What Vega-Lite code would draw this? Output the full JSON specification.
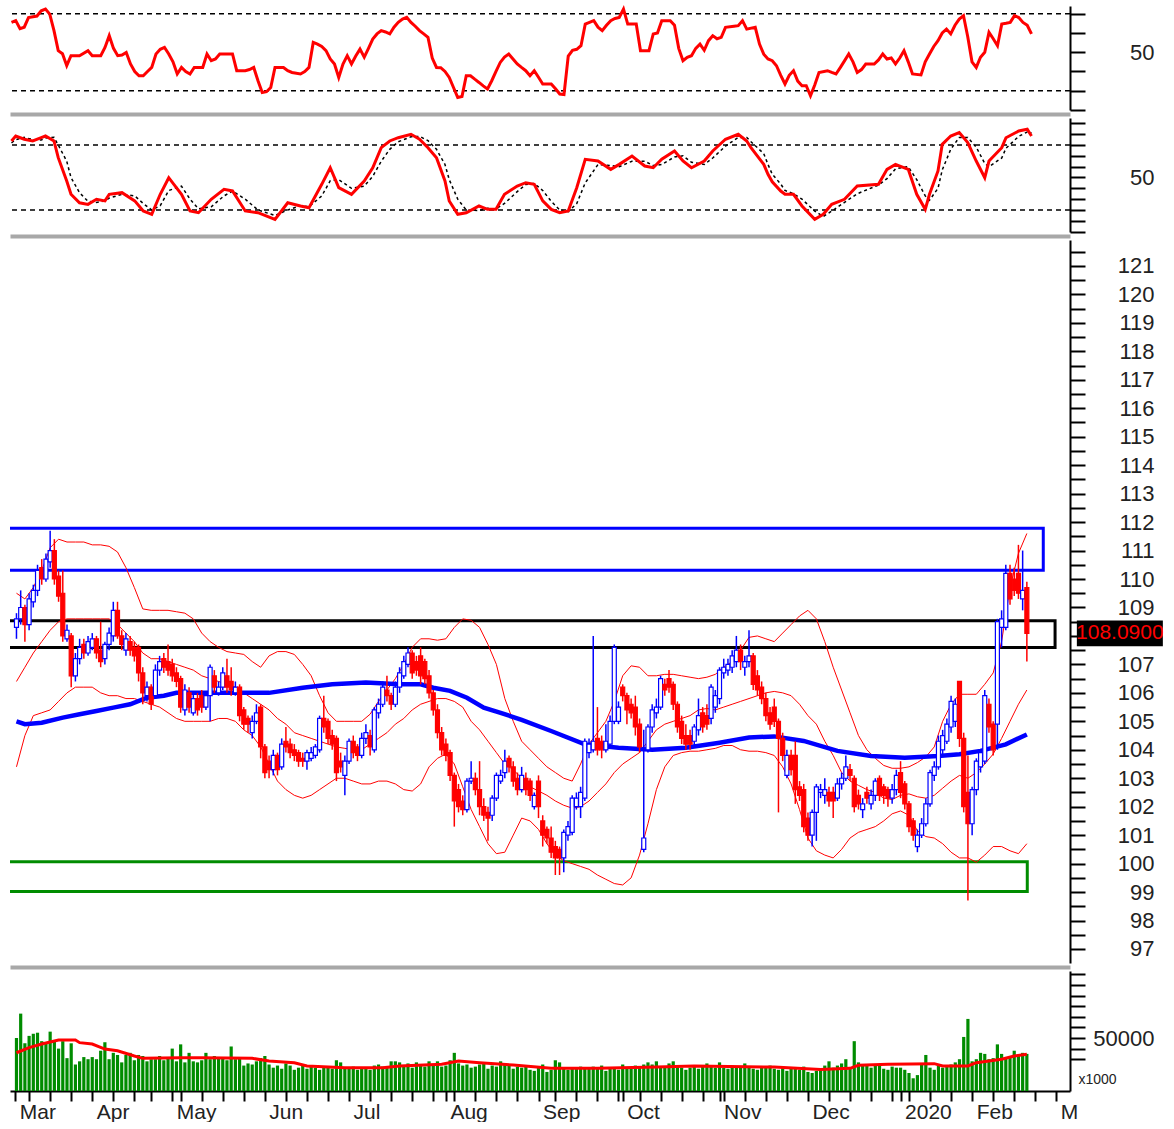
{
"$schema": "https://vega.github.io/schema/vega-lite/v6.json",
"background": "white",
"padding": {"left": 5, "top": 2, "right": 0, "bottom": 0},
"spacing": 8,
"bounds": "flush",
"config": {"view": {"stroke": null}, "axis": {"grid": false, "labelFont": "Liberation Sans", "titleFont": "Liberation Sans", "labelColor": "#222222", "domainColor": "black", "tickColor": "black", "domainWidth": 2, "tickWidth": 2, "labelOverlap": false, "labelSeparation": -5000, "labelFlush": false}},
"datasets": {
"px": [
{"t":-18,"o":108.3,"h":108.8,"l":107.9,"c":108.6,"v":50000},
{"t":-17,"o":108.6,"h":109.6,"l":108.4,"c":109.0,"v":73000},
{"t":-16,"o":109.0,"h":109.1,"l":107.8,"c":108.4,"v":45000},
{"t":-15,"o":108.4,"h":109.5,"l":108.2,"c":109.3,"v":52000},
{"t":-14,"o":109.2,"h":109.8,"l":109.0,"c":109.6,"v":54000},
{"t":-13,"o":109.6,"h":110.5,"l":109.4,"c":110.3,"v":55000},
{"t":-12,"o":110.4,"h":110.7,"l":109.8,"c":110.0,"v":47000},
{"t":-11,"o":110.0,"h":110.9,"l":109.9,"c":110.7,"v":46000},
{"t":-10,"o":110.6,"h":111.7,"l":110.4,"c":111.0,"v":56000},
{"t":-9,"o":111.0,"h":111.4,"l":109.8,"c":110.0,"v":48000},
{"t":-8,"o":110.1,"h":110.3,"l":109.2,"c":109.4,"v":40000},
{"t":-7,"o":109.5,"h":110.3,"l":107.8,"c":108.0,"v":47000},
{"t":-6,"o":107.9,"h":108.4,"l":107.8,"c":108.2,"v":31000},
{"t":-5,"o":108.0,"h":108.1,"l":106.2,"c":106.6,"v":45000},
{"t":-4,"o":106.6,"h":107.4,"l":106.4,"c":107.2,"v":25000},
{"t":-3,"o":107.2,"h":107.9,"l":107.0,"c":107.6,"v":28000},
{"t":-2,"o":107.7,"h":107.9,"l":107.2,"c":107.4,"v":32000},
{"t":-1,"o":107.4,"h":108.0,"l":107.3,"c":107.8,"v":30000},
{"t":0,"o":107.6,"h":108.1,"l":107.5,"c":107.9,"v":32000},
{"t":1,"o":107.9,"h":108.0,"l":107.2,"c":107.4,"v":30000},
{"t":2,"o":107.5,"h":108.5,"l":106.9,"c":107.1,"v":38000},
{"t":3,"o":107.2,"h":107.8,"l":107.0,"c":107.7,"v":46000},
{"t":4,"o":107.7,"h":108.3,"l":107.5,"c":108.1,"v":30000},
{"t":5,"o":108.0,"h":109.2,"l":107.8,"c":108.9,"v":36000},
{"t":6,"o":108.9,"h":109.2,"l":107.9,"c":108.0,"v":34000},
{"t":7,"o":108.0,"h":108.2,"l":107.5,"c":107.7,"v":27000},
{"t":8,"o":107.5,"h":108.1,"l":107.3,"c":107.9,"v":34000},
{"t":9,"o":107.8,"h":108.0,"l":107.3,"c":107.5,"v":36000},
{"t":10,"o":107.6,"h":107.8,"l":107.1,"c":107.3,"v":29000},
{"t":11,"o":107.6,"h":107.7,"l":106.4,"c":106.7,"v":34000},
{"t":12,"o":106.7,"h":106.9,"l":105.6,"c":106.0,"v":33000},
{"t":13,"o":105.9,"h":106.4,"l":105.7,"c":106.2,"v":28000},
{"t":14,"o":106.2,"h":106.3,"l":105.4,"c":105.6,"v":30000},
{"t":15,"o":105.9,"h":107.0,"l":105.8,"c":106.8,"v":30000},
{"t":16,"o":106.8,"h":107.3,"l":106.6,"c":107.1,"v":33000},
{"t":17,"o":107.2,"h":107.4,"l":106.7,"c":106.9,"v":29000},
{"t":18,"o":107.1,"h":107.7,"l":106.6,"c":106.8,"v":32000},
{"t":19,"o":107.0,"h":107.2,"l":106.4,"c":106.6,"v":40000},
{"t":20,"o":106.7,"h":106.9,"l":106.2,"c":106.4,"v":28000},
{"t":21,"o":106.5,"h":106.6,"l":105.3,"c":105.5,"v":44000},
{"t":22,"o":105.4,"h":106.3,"l":105.2,"c":106.1,"v":27000},
{"t":23,"o":106.0,"h":106.2,"l":105.3,"c":105.5,"v":36000},
{"t":24,"o":105.3,"h":106.0,"l":105.2,"c":105.8,"v":28000},
{"t":25,"o":105.8,"h":106.0,"l":105.2,"c":105.4,"v":27000},
{"t":26,"o":105.9,"h":106.1,"l":105.3,"c":105.5,"v":29000},
{"t":27,"o":105.5,"h":106.0,"l":105.4,"c":105.9,"v":36000},
{"t":28,"o":105.9,"h":107.0,"l":105.0,"c":106.9,"v":30000},
{"t":29,"o":106.6,"h":106.8,"l":106.0,"c":106.2,"v":33000},
{"t":30,"o":106.0,"h":106.4,"l":105.9,"c":106.2,"v":31000},
{"t":31,"o":106.2,"h":106.9,"l":106.1,"c":106.7,"v":32000},
{"t":32,"o":106.6,"h":107.2,"l":106.0,"c":106.2,"v":29000},
{"t":33,"o":106.4,"h":106.9,"l":105.9,"c":106.1,"v":42000},
{"t":34,"o":106.0,"h":106.4,"l":105.9,"c":106.2,"v":30000},
{"t":35,"o":106.2,"h":106.3,"l":105.0,"c":105.2,"v":31000},
{"t":36,"o":105.4,"h":105.5,"l":104.7,"c":104.9,"v":24000},
{"t":37,"o":105.1,"h":105.2,"l":104.6,"c":104.9,"v":26000},
{"t":38,"o":104.6,"h":105.2,"l":104.4,"c":105.0,"v":25000},
{"t":39,"o":105.0,"h":105.6,"l":104.9,"c":105.3,"v":28000},
{"t":40,"o":105.5,"h":105.6,"l":103.7,"c":104.1,"v":31000},
{"t":41,"o":104.1,"h":104.2,"l":103.0,"c":103.2,"v":33000},
{"t":42,"o":103.6,"h":103.8,"l":103.0,"c":103.3,"v":25000},
{"t":43,"o":103.3,"h":104.0,"l":103.1,"c":103.8,"v":22000},
{"t":44,"o":103.8,"h":103.9,"l":103.1,"c":103.3,"v":24000},
{"t":45,"o":103.4,"h":104.4,"l":103.3,"c":104.2,"v":21000},
{"t":46,"o":104.3,"h":104.8,"l":103.9,"c":104.1,"v":26000},
{"t":47,"o":104.2,"h":104.4,"l":103.7,"c":103.9,"v":24000},
{"t":48,"o":104.0,"h":104.2,"l":103.6,"c":103.8,"v":20000},
{"t":49,"o":103.9,"h":104.0,"l":103.4,"c":103.6,"v":22000},
{"t":50,"o":103.7,"h":103.9,"l":103.4,"c":103.6,"v":24000},
{"t":51,"o":103.6,"h":104.0,"l":103.3,"c":103.9,"v":21000},
{"t":52,"o":103.7,"h":104.1,"l":103.6,"c":103.9,"v":23000},
{"t":53,"o":103.8,"h":104.2,"l":103.7,"c":104.1,"v":22000},
{"t":54,"o":104.0,"h":105.2,"l":103.9,"c":105.1,"v":20000},
{"t":55,"o":105.1,"h":105.9,"l":104.6,"c":104.8,"v":23000},
{"t":56,"o":105.0,"h":105.1,"l":104.2,"c":104.4,"v":22000},
{"t":57,"o":104.5,"h":104.7,"l":104.0,"c":104.2,"v":21000},
{"t":58,"o":104.4,"h":104.5,"l":102.9,"c":103.2,"v":29000},
{"t":59,"o":103.6,"h":103.9,"l":103.2,"c":103.4,"v":27000},
{"t":60,"o":103.1,"h":103.8,"l":102.4,"c":103.6,"v":22000},
{"t":61,"o":103.6,"h":104.4,"l":103.5,"c":104.3,"v":21000},
{"t":62,"o":104.3,"h":104.5,"l":103.7,"c":103.9,"v":23000},
{"t":63,"o":104.1,"h":104.2,"l":103.6,"c":103.8,"v":20000},
{"t":64,"o":103.8,"h":104.6,"l":103.7,"c":104.4,"v":22000},
{"t":65,"o":104.4,"h":104.9,"l":104.2,"c":104.6,"v":21000},
{"t":66,"o":104.5,"h":104.7,"l":103.8,"c":104.1,"v":20000},
{"t":67,"o":104.0,"h":105.5,"l":103.9,"c":105.4,"v":24000},
{"t":68,"o":105.3,"h":105.8,"l":105.1,"c":105.6,"v":25000},
{"t":69,"o":105.6,"h":106.4,"l":105.5,"c":106.2,"v":23000},
{"t":70,"o":106.1,"h":106.6,"l":105.7,"c":105.9,"v":22000},
{"t":71,"o":105.9,"h":106.0,"l":105.4,"c":105.6,"v":28000},
{"t":72,"o":105.6,"h":106.4,"l":105.5,"c":106.2,"v":28000},
{"t":73,"o":106.2,"h":106.9,"l":106.0,"c":106.7,"v":27000},
{"t":74,"o":106.6,"h":107.3,"l":106.5,"c":107.1,"v":24000},
{"t":75,"o":107.0,"h":107.6,"l":106.9,"c":107.4,"v":26000},
{"t":76,"o":107.4,"h":107.5,"l":106.5,"c":106.7,"v":22000},
{"t":77,"o":107.1,"h":107.3,"l":106.6,"c":106.8,"v":27000},
{"t":78,"o":107.3,"h":107.6,"l":106.3,"c":106.6,"v":25000},
{"t":79,"o":107.1,"h":107.2,"l":106.3,"c":106.5,"v":23000},
{"t":80,"o":106.6,"h":106.8,"l":105.8,"c":106.0,"v":28000},
{"t":81,"o":106.0,"h":106.1,"l":105.2,"c":105.4,"v":24000},
{"t":82,"o":105.4,"h":105.6,"l":104.4,"c":104.6,"v":28000},
{"t":83,"o":104.6,"h":104.8,"l":103.8,"c":104.0,"v":23000},
{"t":84,"o":104.2,"h":104.4,"l":103.6,"c":103.8,"v":24000},
{"t":85,"o":103.9,"h":104.0,"l":102.9,"c":103.1,"v":29000},
{"t":86,"o":103.1,"h":103.2,"l":101.3,"c":102.2,"v":36000},
{"t":87,"o":102.6,"h":102.8,"l":101.8,"c":102.0,"v":26000},
{"t":88,"o":102.2,"h":102.4,"l":101.7,"c":101.9,"v":24000},
{"t":89,"o":101.9,"h":103.0,"l":101.8,"c":102.9,"v":25000},
{"t":90,"o":102.9,"h":103.6,"l":102.8,"c":103.0,"v":22000},
{"t":91,"o":103.0,"h":103.2,"l":102.4,"c":102.6,"v":23000},
{"t":92,"o":102.6,"h":103.6,"l":101.7,"c":102.0,"v":25000},
{"t":93,"o":102.0,"h":102.3,"l":101.5,"c":101.7,"v":27000},
{"t":94,"o":101.8,"h":102.0,"l":100.8,"c":101.6,"v":21000},
{"t":95,"o":101.7,"h":102.4,"l":101.5,"c":102.3,"v":24000},
{"t":96,"o":102.3,"h":103.2,"l":102.2,"c":103.1,"v":23000},
{"t":97,"o":102.9,"h":103.3,"l":102.8,"c":103.1,"v":28000},
{"t":98,"o":103.2,"h":104.0,"l":103.0,"c":103.6,"v":25000},
{"t":99,"o":103.7,"h":103.8,"l":103.2,"c":103.4,"v":24000},
{"t":100,"o":103.4,"h":103.6,"l":102.7,"c":102.9,"v":21000},
{"t":101,"o":103.0,"h":103.2,"l":102.4,"c":102.6,"v":23000},
{"t":102,"o":102.6,"h":103.4,"l":102.5,"c":103.1,"v":22000},
{"t":103,"o":103.0,"h":103.2,"l":102.4,"c":102.6,"v":24000},
{"t":104,"o":102.9,"h":103.0,"l":102.2,"c":102.4,"v":20000},
{"t":105,"o":102.0,"h":102.5,"l":101.9,"c":102.4,"v":19000},
{"t":106,"o":102.9,"h":103.1,"l":101.6,"c":102.0,"v":22000},
{"t":107,"o":101.5,"h":101.7,"l":100.6,"c":101.0,"v":25000},
{"t":108,"o":101.2,"h":101.3,"l":100.7,"c":100.9,"v":18000},
{"t":109,"o":100.9,"h":101.3,"l":100.2,"c":100.4,"v":20000},
{"t":110,"o":100.6,"h":100.8,"l":99.6,"c":100.2,"v":29000},
{"t":111,"o":100.5,"h":100.6,"l":99.6,"c":100.2,"v":27000},
{"t":112,"o":100.2,"h":101.2,"l":99.7,"c":101.1,"v":21000},
{"t":113,"o":101.0,"h":101.5,"l":100.8,"c":101.3,"v":20000},
{"t":114,"o":101.1,"h":102.4,"l":101.0,"c":102.3,"v":22000},
{"t":115,"o":102.0,"h":102.5,"l":101.9,"c":102.3,"v":21000},
{"t":116,"o":102.0,"h":102.7,"l":101.6,"c":102.5,"v":23000},
{"t":117,"o":102.3,"h":104.4,"l":102.2,"c":104.3,"v":22000},
{"t":118,"o":103.9,"h":104.4,"l":103.7,"c":104.2,"v":21000},
{"t":119,"o":104.0,"h":108.0,"l":103.9,"c":104.3,"v":23000},
{"t":120,"o":104.4,"h":105.5,"l":103.8,"c":104.0,"v":22000},
{"t":121,"o":104.3,"h":104.5,"l":103.7,"c":104.0,"v":24000},
{"t":122,"o":104.0,"h":104.9,"l":103.9,"c":104.3,"v":19000},
{"t":123,"o":104.2,"h":105.2,"l":104.1,"c":105.0,"v":21000},
{"t":124,"o":105.0,"h":107.7,"l":104.9,"c":107.6,"v":22000},
{"t":125,"o":105.0,"h":105.7,"l":104.9,"c":105.5,"v":20000},
{"t":126,"o":106.2,"h":106.3,"l":105.7,"c":105.9,"v":25000},
{"t":127,"o":105.9,"h":106.0,"l":104.9,"c":105.4,"v":22000},
{"t":128,"o":105.6,"h":105.8,"l":105.1,"c":105.3,"v":21000},
{"t":129,"o":105.5,"h":105.9,"l":104.5,"c":104.8,"v":24000},
{"t":130,"o":104.9,"h":105.1,"l":103.9,"c":104.1,"v":23000},
{"t":131,"o":100.5,"h":104.7,"l":100.4,"c":100.9,"v":25000},
{"t":132,"o":104.0,"h":104.9,"l":103.9,"c":104.8,"v":27000},
{"t":133,"o":104.8,"h":105.6,"l":104.6,"c":105.4,"v":25000},
{"t":134,"o":105.3,"h":105.8,"l":105.1,"c":105.5,"v":28000},
{"t":135,"o":105.5,"h":106.6,"l":105.4,"c":106.5,"v":22000},
{"t":136,"o":106.3,"h":106.5,"l":105.9,"c":106.1,"v":23000},
{"t":137,"o":106.5,"h":106.8,"l":106.0,"c":106.2,"v":26000},
{"t":138,"o":106.3,"h":106.4,"l":105.4,"c":105.6,"v":28000},
{"t":139,"o":105.6,"h":105.7,"l":104.6,"c":104.8,"v":24000},
{"t":140,"o":105.0,"h":105.2,"l":104.2,"c":104.4,"v":22000},
{"t":141,"o":104.5,"h":104.9,"l":104.0,"c":104.2,"v":20000},
{"t":142,"o":104.5,"h":104.7,"l":104.0,"c":104.2,"v":22000},
{"t":143,"o":104.3,"h":104.9,"l":104.1,"c":104.8,"v":23000},
{"t":144,"o":104.7,"h":105.8,"l":104.5,"c":105.2,"v":21000},
{"t":145,"o":105.3,"h":105.5,"l":104.6,"c":104.8,"v":24000},
{"t":146,"o":105.2,"h":105.6,"l":104.7,"c":104.9,"v":26000},
{"t":147,"o":105.1,"h":106.3,"l":104.9,"c":106.2,"v":23000},
{"t":148,"o":105.5,"h":106.1,"l":105.3,"c":105.9,"v":22000},
{"t":149,"o":105.8,"h":106.9,"l":105.6,"c":106.8,"v":27000},
{"t":150,"o":106.7,"h":107.2,"l":106.5,"c":106.9,"v":22000},
{"t":151,"o":106.8,"h":107.2,"l":106.6,"c":107.0,"v":21000},
{"t":152,"o":106.9,"h":107.5,"l":106.7,"c":107.3,"v":24000},
{"t":153,"o":107.1,"h":108.0,"l":106.9,"c":107.5,"v":22000},
{"t":154,"o":107.5,"h":107.7,"l":106.8,"c":107.1,"v":23000},
{"t":155,"o":106.9,"h":107.3,"l":106.6,"c":107.1,"v":26000},
{"t":156,"o":107.1,"h":108.2,"l":106.9,"c":107.3,"v":22000},
{"t":157,"o":107.3,"h":107.4,"l":106.1,"c":106.3,"v":21000},
{"t":158,"o":106.6,"h":106.8,"l":105.9,"c":106.1,"v":20000},
{"t":159,"o":106.2,"h":106.4,"l":105.6,"c":105.8,"v":22000},
{"t":160,"o":105.8,"h":106.0,"l":105.0,"c":105.2,"v":23000},
{"t":161,"o":105.3,"h":105.5,"l":104.7,"c":104.9,"v":24000},
{"t":162,"o":105.5,"h":105.8,"l":104.8,"c":105.0,"v":21000},
{"t":163,"o":105.0,"h":105.1,"l":101.8,"c":104.4,"v":20000},
{"t":164,"o":104.4,"h":104.6,"l":103.6,"c":103.8,"v":22000},
{"t":165,"o":103.1,"h":104.0,"l":103.0,"c":103.8,"v":19000},
{"t":166,"o":103.8,"h":104.0,"l":103.1,"c":103.3,"v":21000},
{"t":167,"o":103.8,"h":104.3,"l":102.1,"c":102.6,"v":22000},
{"t":168,"o":102.7,"h":102.9,"l":102.2,"c":102.4,"v":20000},
{"t":169,"o":102.6,"h":102.8,"l":101.1,"c":101.3,"v":23000},
{"t":170,"o":101.6,"h":101.8,"l":100.8,"c":101.0,"v":18000},
{"t":171,"o":101.0,"h":101.9,"l":100.6,"c":101.8,"v":17000},
{"t":172,"o":101.8,"h":102.8,"l":100.8,"c":102.7,"v":19000},
{"t":173,"o":102.5,"h":102.8,"l":102.3,"c":102.6,"v":20000},
{"t":174,"o":102.4,"h":103.0,"l":102.1,"c":102.6,"v":24000},
{"t":175,"o":102.5,"h":102.7,"l":102.0,"c":102.2,"v":28000},
{"t":176,"o":102.5,"h":102.7,"l":101.6,"c":102.2,"v":22000},
{"t":177,"o":102.3,"h":103.0,"l":102.2,"c":102.8,"v":24000},
{"t":178,"o":102.8,"h":103.2,"l":102.6,"c":103.0,"v":26000},
{"t":179,"o":103.0,"h":103.8,"l":102.9,"c":103.4,"v":30000},
{"t":180,"o":103.3,"h":103.5,"l":102.9,"c":103.1,"v":22000},
{"t":181,"o":103.0,"h":103.1,"l":101.8,"c":102.0,"v":47000},
{"t":182,"o":102.4,"h":102.6,"l":101.9,"c":102.1,"v":27000},
{"t":183,"o":101.9,"h":102.3,"l":101.6,"c":102.1,"v":24000},
{"t":184,"o":102.5,"h":102.7,"l":102.1,"c":102.3,"v":25000},
{"t":185,"o":102.1,"h":102.6,"l":101.9,"c":102.4,"v":22000},
{"t":186,"o":102.4,"h":103.0,"l":102.2,"c":102.9,"v":24000},
{"t":187,"o":103.0,"h":103.1,"l":102.2,"c":102.4,"v":25000},
{"t":188,"o":102.7,"h":102.8,"l":102.1,"c":102.4,"v":21000},
{"t":189,"o":102.6,"h":102.7,"l":102.0,"c":102.3,"v":20000},
{"t":190,"o":102.3,"h":102.8,"l":102.1,"c":102.6,"v":23000},
{"t":191,"o":102.6,"h":103.3,"l":102.4,"c":103.1,"v":22000},
{"t":192,"o":103.2,"h":103.6,"l":102.3,"c":102.5,"v":22000},
{"t":193,"o":102.8,"h":102.9,"l":101.9,"c":102.1,"v":20000},
{"t":194,"o":102.1,"h":102.2,"l":101.1,"c":101.3,"v":17000},
{"t":195,"o":101.5,"h":101.6,"l":100.8,"c":101.0,"v":12000},
{"t":196,"o":100.6,"h":101.2,"l":100.4,"c":101.0,"v":15000},
{"t":197,"o":101.0,"h":101.6,"l":100.9,"c":101.4,"v":25000},
{"t":198,"o":101.4,"h":102.3,"l":101.3,"c":102.1,"v":34000},
{"t":199,"o":102.1,"h":103.3,"l":102.0,"c":103.2,"v":22000},
{"t":200,"o":103.1,"h":103.6,"l":102.9,"c":103.4,"v":20000},
{"t":201,"o":103.4,"h":104.5,"l":103.3,"c":104.3,"v":24000},
{"t":202,"o":104.0,"h":104.7,"l":103.8,"c":104.5,"v":22000},
{"t":203,"o":104.3,"h":105.1,"l":104.2,"c":104.9,"v":23000},
{"t":204,"o":104.8,"h":105.9,"l":104.6,"c":105.7,"v":25000},
{"t":205,"o":105.0,"h":105.8,"l":104.8,"c":105.6,"v":27000},
{"t":206,"o":106.4,"h":106.4,"l":104.1,"c":104.4,"v":30000},
{"t":207,"o":104.4,"h":104.6,"l":101.8,"c":102.0,"v":51000},
{"t":208,"o":102.5,"h":103.8,"l":98.7,"c":101.4,"v":68000},
{"t":209,"o":101.4,"h":102.7,"l":101.0,"c":102.6,"v":28000},
{"t":210,"o":102.6,"h":103.7,"l":102.4,"c":103.6,"v":30000},
{"t":211,"o":103.4,"h":104.0,"l":103.2,"c":103.9,"v":36000},
{"t":212,"o":103.6,"h":106.1,"l":103.5,"c":105.9,"v":35000},
{"t":213,"o":105.6,"h":105.8,"l":104.6,"c":104.8,"v":30000},
{"t":214,"o":104.9,"h":105.0,"l":103.8,"c":104.0,"v":31000},
{"t":215,"o":104.9,"h":108.6,"l":104.0,"c":108.5,"v":44000},
{"t":216,"o":108.3,"h":108.9,"l":107.6,"c":108.6,"v":35000},
{"t":217,"o":108.3,"h":110.5,"l":108.2,"c":110.2,"v":32000},
{"t":218,"o":110.2,"h":110.5,"l":109.1,"c":109.3,"v":33000},
{"t":219,"o":110.0,"h":110.4,"l":109.4,"c":109.6,"v":38000},
{"t":220,"o":110.2,"h":111.2,"l":109.3,"c":109.5,"v":34000},
{"t":221,"o":109.3,"h":111.0,"l":108.9,"c":109.6,"v":36000},
{"t":222,"o":109.7,"h":109.9,"l":107.1,"c":108.09,"v":35000}
],
"bb": [
{"t":-18,"up":109.5,"mid":106.4,"lo":103.4},{"t":-16,"up":109.3,"mid":106.9,"lo":104.5},{"t":-14,"up":109.7,"mid":107.4,"lo":105.2},{"t":-12,"up":110.3,"mid":107.8,"lo":105.3},{"t":-10,"up":111.1,"mid":108.2,"lo":105.4},{"t":-8,"up":111.4,"mid":108.5,"lo":105.7},{"t":-6,"up":111.3,"mid":108.6,"lo":106.0},{"t":-4,"up":111.3,"mid":108.6,"lo":106.2},{"t":-2,"up":111.3,"mid":108.6,"lo":106.2},{"t":0,"up":111.2,"mid":108.6,"lo":106.2},{"t":2,"up":111.2,"mid":108.6,"lo":106.0},{"t":4,"up":111.15,"mid":108.6,"lo":105.9},{"t":6,"up":110.95,"mid":108.4,"lo":105.9},{"t":8,"up":110.4,"mid":108.1,"lo":105.8},{"t":10,"up":109.7,"mid":107.8,"lo":105.8},{"t":12,"up":108.95,"mid":107.4,"lo":105.7},{"t":14,"up":108.9,"mid":107.2,"lo":105.6},{"t":16,"up":108.9,"mid":107.2,"lo":105.5},{"t":18,"up":108.9,"mid":107.1,"lo":105.3},{"t":20,"up":108.85,"mid":107.0,"lo":105.1},{"t":22,"up":108.8,"mid":106.9,"lo":105.0},{"t":24,"up":108.6,"mid":106.8,"lo":105.0},{"t":26,"up":108.1,"mid":106.6,"lo":105.0},{"t":28,"up":107.8,"mid":106.5,"lo":105.0},{"t":30,"up":107.6,"mid":106.4,"lo":105.1},{"t":32,"up":107.45,"mid":106.3,"lo":105.1},{"t":34,"up":107.4,"mid":106.2,"lo":105.0},{"t":36,"up":107.35,"mid":106.0,"lo":104.7},{"t":38,"up":107.1,"mid":105.8,"lo":104.5},{"t":40,"up":106.9,"mid":105.6,"lo":104.1},{"t":42,"up":107.3,"mid":105.4,"lo":103.5},{"t":44,"up":107.45,"mid":105.1,"lo":102.9},{"t":46,"up":107.45,"mid":104.9,"lo":102.6},{"t":48,"up":107.35,"mid":104.6,"lo":102.4},{"t":50,"up":107.0,"mid":104.5,"lo":102.3},{"t":52,"up":106.6,"mid":104.4,"lo":102.4},{"t":54,"up":105.9,"mid":104.3,"lo":102.6},{"t":56,"up":105.3,"mid":104.2,"lo":102.8},{"t":58,"up":105.0,"mid":104.1,"lo":103.0},{"t":60,"up":105.0,"mid":104.05,"lo":103.0},{"t":62,"up":105.0,"mid":104.0,"lo":102.9},{"t":64,"up":105.0,"mid":104.0,"lo":102.8},{"t":66,"up":105.25,"mid":104.2,"lo":102.8},{"t":68,"up":105.7,"mid":104.4,"lo":102.9},{"t":70,"up":106.1,"mid":104.6,"lo":102.9},{"t":72,"up":106.5,"mid":104.9,"lo":102.8},{"t":74,"up":107.0,"mid":105.1,"lo":102.6},{"t":76,"up":107.6,"mid":105.4,"lo":102.55},{"t":78,"up":107.9,"mid":105.6,"lo":102.8},{"t":80,"up":107.9,"mid":105.7,"lo":103.4},{"t":82,"up":107.85,"mid":105.8,"lo":103.7},{"t":84,"up":107.9,"mid":105.8,"lo":103.85},{"t":86,"up":108.3,"mid":105.7,"lo":103.5},{"t":88,"up":108.6,"mid":105.5,"lo":102.7},{"t":90,"up":108.55,"mid":105.0,"lo":101.9},{"t":92,"up":108.3,"mid":104.7,"lo":101.3},{"t":94,"up":107.7,"mid":104.3,"lo":100.7},{"t":96,"up":107.0,"mid":103.9,"lo":100.35},{"t":98,"up":105.8,"mid":103.5,"lo":100.4},{"t":100,"up":105.0,"mid":103.3,"lo":101.0},{"t":102,"up":104.3,"mid":103.0,"lo":101.6},{"t":104,"up":104.0,"mid":102.7,"lo":101.5},{"t":106,"up":103.7,"mid":102.55,"lo":101.2},{"t":108,"up":103.4,"mid":102.4,"lo":100.7},{"t":110,"up":103.2,"mid":102.2,"lo":100.3},{"t":112,"up":103.0,"mid":102.05,"lo":100.1},{"t":114,"up":102.9,"mid":101.95,"lo":100.0},{"t":116,"up":103.5,"mid":102.0,"lo":99.9},{"t":118,"up":104.2,"mid":102.2,"lo":99.8},{"t":120,"up":104.6,"mid":102.5,"lo":99.6},{"t":122,"up":105.0,"mid":102.8,"lo":99.45},{"t":124,"up":105.7,"mid":103.2,"lo":99.3},{"t":126,"up":106.6,"mid":103.5,"lo":99.25},{"t":128,"up":106.95,"mid":103.7,"lo":99.5},{"t":130,"up":106.9,"mid":103.9,"lo":100.3},{"t":132,"up":106.6,"mid":104.3,"lo":101.4},{"t":134,"up":106.6,"mid":104.7,"lo":102.6},{"t":136,"up":106.65,"mid":104.9,"lo":103.4},{"t":138,"up":106.65,"mid":105.0,"lo":103.8},{"t":140,"up":106.6,"mid":105.1,"lo":103.9},{"t":142,"up":106.55,"mid":105.2,"lo":103.95},{"t":144,"up":106.5,"mid":105.4,"lo":103.95},{"t":146,"up":106.55,"mid":105.45,"lo":104.0},{"t":148,"up":106.65,"mid":105.4,"lo":104.05},{"t":150,"up":106.9,"mid":105.5,"lo":104.15},{"t":152,"up":107.1,"mid":105.6,"lo":104.15},{"t":154,"up":107.5,"mid":105.7,"lo":104.0},{"t":156,"up":107.95,"mid":105.8,"lo":103.95},{"t":158,"up":108.0,"mid":105.9,"lo":103.95},{"t":160,"up":107.9,"mid":106.0,"lo":103.9},{"t":162,"up":107.8,"mid":106.05,"lo":103.8},{"t":164,"up":108.1,"mid":106.0,"lo":103.4},{"t":166,"up":108.4,"mid":105.9,"lo":102.8},{"t":168,"up":108.7,"mid":105.6,"lo":101.9},{"t":170,"up":108.9,"mid":105.2,"lo":100.9},{"t":172,"up":108.6,"mid":104.9,"lo":100.45},{"t":174,"up":107.8,"mid":104.3,"lo":100.3},{"t":176,"up":106.9,"mid":103.8,"lo":100.2},{"t":178,"up":106.1,"mid":103.2,"lo":100.5},{"t":180,"up":105.3,"mid":102.9,"lo":100.9},{"t":182,"up":104.5,"mid":102.75,"lo":101.1},{"t":184,"up":104.0,"mid":102.6,"lo":101.2},{"t":186,"up":103.7,"mid":102.5,"lo":101.3},{"t":188,"up":103.45,"mid":102.3,"lo":101.5},{"t":190,"up":103.35,"mid":102.25,"lo":101.75},{"t":192,"up":103.35,"mid":102.4,"lo":101.85},{"t":194,"up":103.4,"mid":102.45,"lo":101.7},{"t":196,"up":103.55,"mid":102.35,"lo":101.15},{"t":198,"up":103.75,"mid":102.3,"lo":100.95},{"t":200,"up":104.1,"mid":102.4,"lo":100.9},{"t":202,"up":105.0,"mid":102.65,"lo":100.7},{"t":204,"up":105.6,"mid":102.9,"lo":100.4},{"t":206,"up":105.95,"mid":103.1,"lo":100.2},{"t":208,"up":105.95,"mid":103.0,"lo":100.2},{"t":210,"up":105.95,"mid":103.2,"lo":100.05},{"t":212,"up":106.3,"mid":103.5,"lo":100.3},{"t":214,"up":106.7,"mid":103.85,"lo":100.6},{"t":216,"up":107.8,"mid":104.4,"lo":100.6},{"t":218,"up":109.7,"mid":105.0,"lo":100.45},{"t":220,"up":110.9,"mid":105.6,"lo":100.35},{"t":222,"up":111.6,"mid":106.1,"lo":100.7}
],
"ma": [
{"t":-18,"m":105.0},{"t":-16,"m":104.9},{"t":-12,"m":104.95},{"t":-7,"m":105.13},{"t":-3,"m":105.25},{"t":1,"m":105.36},{"t":5,"m":105.48},{"t":9,"m":105.6},{"t":13,"m":105.83},{"t":17,"m":105.9},{"t":20,"m":106.0},{"t":30,"m":106.0},{"t":42,"m":106.0},{"t":50,"m":106.18},{"t":57,"m":106.3},{"t":65,"m":106.36},{"t":73,"m":106.3},{"t":78,"m":106.3},{"t":81,"m":106.18},{"t":85,"m":106.07},{"t":89,"m":105.83},{"t":93,"m":105.48},{"t":97,"m":105.3},{"t":102,"m":105.05},{"t":109,"m":104.66},{"t":117,"m":104.19},{"t":125,"m":104.07},{"t":133,"m":104.0},{"t":141,"m":104.07},{"t":149,"m":104.25},{"t":156,"m":104.43},{"t":162,"m":104.47},{"t":169,"m":104.31},{"t":177,"m":103.96},{"t":185,"m":103.78},{"t":193,"m":103.72},{"t":201,"m":103.78},{"t":206,"m":103.84},{"t":211,"m":103.96},{"t":217,"m":104.19},{"t":222,"m":104.54}
],
"rsi": [
{"t":-18,"r":65.5},{"t":-17,"r":66.4},{"t":-16,"r":62.2},{"t":-15,"r":63},{"t":-14,"r":68},{"t":-12,"r":68.8},{"t":-11,"r":71.5},{"t":-10,"r":72.4},{"t":-9,"r":69.8},{"t":-8,"r":61.2},{"t":-7,"r":50.8},{"t":-6,"r":49.2},{"t":-5,"r":43},{"t":-4,"r":48.2},{"t":-2,"r":48.2},{"t":0,"r":50.8},{"t":1,"r":48.2},{"t":3,"r":48.2},{"t":4,"r":52.5},{"t":5,"r":58.6},{"t":6,"r":52},{"t":7,"r":48.2},{"t":8,"r":48.5},{"t":9,"r":49.9},{"t":10,"r":43.9},{"t":11,"r":40},{"t":12,"r":37.8},{"t":13,"r":37.8},{"t":14,"r":40},{"t":15,"r":42.1},{"t":16,"r":49.1},{"t":17,"r":51.5},{"t":18,"r":52.5},{"t":19,"r":49.1},{"t":20,"r":45},{"t":21,"r":38.7},{"t":22,"r":42.1},{"t":23,"r":40},{"t":24,"r":38.7},{"t":25,"r":42.1},{"t":27,"r":42.1},{"t":28,"r":49.1},{"t":29,"r":45.6},{"t":30,"r":46.5},{"t":31,"r":49.1},{"t":34,"r":49.1},{"t":35,"r":40.4},{"t":37,"r":40.4},{"t":38,"r":41},{"t":39,"r":42.1},{"t":40,"r":35.2},{"t":41,"r":29.1},{"t":42,"r":29.5},{"t":43,"r":31.7},{"t":44,"r":42.1},{"t":46,"r":42.1},{"t":47,"r":40.4},{"t":48,"r":39.5},{"t":50,"r":38.7},{"t":51,"r":40},{"t":52,"r":42.1},{"t":53,"r":55.1},{"t":54,"r":54.2},{"t":55,"r":53},{"t":56,"r":50.8},{"t":57,"r":46.5},{"t":58,"r":43.9},{"t":59,"r":36.9},{"t":60,"r":43.9},{"t":61,"r":48.2},{"t":62,"r":43.9},{"t":63,"r":48},{"t":64,"r":51.6},{"t":65,"r":47.4},{"t":66,"r":52},{"t":67,"r":56.8},{"t":68,"r":59.5},{"t":69,"r":61.2},{"t":70,"r":60.5},{"t":71,"r":59.5},{"t":72,"r":63},{"t":73,"r":65.5},{"t":74,"r":67.2},{"t":75,"r":68.1},{"t":76,"r":65.5},{"t":77,"r":63.5},{"t":78,"r":61.2},{"t":79,"r":59.5},{"t":80,"r":57.7},{"t":81,"r":47},{"t":82,"r":42.1},{"t":83,"r":42},{"t":84,"r":40},{"t":85,"r":36.9},{"t":86,"r":31.7},{"t":87,"r":26.5},{"t":88,"r":27},{"t":89,"r":37.8},{"t":90,"r":37.8},{"t":91,"r":36},{"t":92,"r":34.3},{"t":93,"r":32.5},{"t":94,"r":30.9},{"t":95,"r":35.2},{"t":96,"r":40},{"t":97,"r":44.7},{"t":98,"r":47.5},{"t":99,"r":49.1},{"t":100,"r":46.5},{"t":101,"r":43.9},{"t":102,"r":42.1},{"t":103,"r":40.4},{"t":104,"r":37.8},{"t":105,"r":40.4},{"t":106,"r":37},{"t":107,"r":33.5},{"t":109,"r":33.5},{"t":110,"r":31},{"t":111,"r":28.3},{"t":112,"r":28},{"t":113,"r":48},{"t":114,"r":51},{"t":115,"r":51.5},{"t":116,"r":53.4},{"t":117,"r":64.6},{"t":118,"r":65.5},{"t":119,"r":66.4},{"t":120,"r":63},{"t":121,"r":61.2},{"t":122,"r":64},{"t":123,"r":66.4},{"t":124,"r":67.5},{"t":125,"r":68.1},{"t":126,"r":72.4},{"t":127,"r":64.6},{"t":129,"r":64.6},{"t":130,"r":50.8},{"t":132,"r":50.8},{"t":133,"r":59.5},{"t":134,"r":60},{"t":135,"r":66.4},{"t":137,"r":66.4},{"t":138,"r":64},{"t":139,"r":52},{"t":140,"r":45.6},{"t":141,"r":47.4},{"t":142,"r":48.2},{"t":143,"r":52},{"t":144,"r":54.2},{"t":145,"r":51},{"t":146,"r":56},{"t":147,"r":58.6},{"t":148,"r":57},{"t":149,"r":57.7},{"t":150,"r":62.9},{"t":152,"r":63.5},{"t":153,"r":63.8},{"t":154,"r":66.4},{"t":155,"r":62},{"t":157,"r":62.9},{"t":158,"r":54.2},{"t":159,"r":49},{"t":160,"r":46.5},{"t":161,"r":45.6},{"t":162,"r":43},{"t":163,"r":38},{"t":164,"r":33.5},{"t":165,"r":38},{"t":166,"r":40.4},{"t":167,"r":35},{"t":168,"r":32.6},{"t":169,"r":32.6},{"t":170,"r":27.4},{"t":171,"r":33},{"t":172,"r":39.5},{"t":174,"r":40.4},{"t":175,"r":39.5},{"t":176,"r":38.7},{"t":177,"r":42},{"t":178,"r":45.5},{"t":179,"r":49.1},{"t":180,"r":45},{"t":181,"r":39.5},{"t":182,"r":41},{"t":183,"r":43.9},{"t":185,"r":43.9},{"t":186,"r":46},{"t":187,"r":49.1},{"t":188,"r":46.5},{"t":189,"r":47},{"t":190,"r":43.9},{"t":191,"r":47},{"t":192,"r":50.8},{"t":193,"r":45},{"t":194,"r":38.7},{"t":196,"r":38.2},{"t":197,"r":45},{"t":198,"r":49.1},{"t":199,"r":53},{"t":200,"r":56},{"t":201,"r":60},{"t":202,"r":62},{"t":203,"r":59.5},{"t":204,"r":64},{"t":205,"r":67.2},{"t":206,"r":69},{"t":207,"r":58},{"t":208,"r":45},{"t":209,"r":42.1},{"t":210,"r":47.4},{"t":211,"r":50},{"t":212,"r":60.3},{"t":213,"r":57},{"t":214,"r":53.4},{"t":215,"r":64.6},{"t":216,"r":65},{"t":217,"r":65.5},{"t":218,"r":69},{"t":219,"r":68},{"t":220,"r":65.5},{"t":221,"r":64},{"t":222,"r":59.5}
],
"sto": [
{"t":-18,"k":83.7,"d":82},{"t":-17,"k":88.3,"d":85},{"t":-15,"k":85.3,"d":87},{"t":-13,"k":83.7,"d":85},{"t":-11,"k":86.7,"d":84.5},{"t":-10,"k":88.3,"d":86.5},{"t":-8,"k":83.7,"d":87},{"t":-7,"k":68.3,"d":80},{"t":-5,"k":46.8,"d":65},{"t":-4,"k":34.5,"d":50},{"t":-2,"k":26.7,"d":36},{"t":0,"k":25.2,"d":28},{"t":2,"k":29.9,"d":27},{"t":4,"k":28.4,"d":28.5},{"t":5,"k":34.5,"d":31},{"t":8,"k":36,"d":34.5},{"t":11,"k":28.4,"d":33},{"t":13,"k":19.1,"d":26},{"t":15,"k":16,"d":20},{"t":17,"k":34.5,"d":24},{"t":19,"k":49.8,"d":38},{"t":22,"k":34.5,"d":42},{"t":24,"k":19.1,"d":30},{"t":26,"k":17.5,"d":21},{"t":29,"k":29.9,"d":23},{"t":32,"k":39.1,"d":33},{"t":34,"k":37.6,"d":37.5},{"t":37,"k":19.1,"d":30},{"t":40,"k":17.5,"d":20},{"t":44,"k":11.4,"d":15},{"t":47,"k":26.7,"d":20},{"t":50,"k":23.7,"d":24},{"t":52,"k":22.1,"d":23},{"t":55,"k":43.7,"d":33},{"t":57,"k":59,"d":47},{"t":59,"k":40.6,"d":48},{"t":62,"k":34.5,"d":40},{"t":65,"k":46.8,"d":42},{"t":67,"k":59,"d":51},{"t":69,"k":77.5,"d":65},{"t":71,"k":83.7,"d":76},{"t":73,"k":86.7,"d":83},{"t":76,"k":89.9,"d":87.5},{"t":78,"k":85.3,"d":88},{"t":80,"k":77.5,"d":84},{"t":82,"k":68.3,"d":76},{"t":84,"k":46.8,"d":62},{"t":85,"k":28.3,"d":48},{"t":87,"k":16,"d":30},{"t":89,"k":17.5,"d":20},{"t":92,"k":23.7,"d":19.5},{"t":94,"k":20.6,"d":21.5},{"t":96,"k":20.6,"d":21},{"t":98,"k":34.5,"d":26},{"t":101,"k":42.1,"d":37},{"t":103,"k":45.2,"d":43.5},{"t":105,"k":43.7,"d":44.5},{"t":107,"k":28.4,"d":38},{"t":109,"k":20.6,"d":28},{"t":111,"k":17.5,"d":20},{"t":113,"k":19.1,"d":18.5},{"t":115,"k":40.6,"d":26},{"t":117,"k":66.8,"d":45},{"t":120,"k":65.2,"d":62},{"t":123,"k":57.5,"d":61},{"t":125,"k":62.1,"d":60},{"t":128,"k":69.8,"d":65},{"t":131,"k":60.6,"d":65},{"t":133,"k":59,"d":61},{"t":135,"k":66.8,"d":62},{"t":138,"k":74.5,"d":69},{"t":140,"k":65.2,"d":70},{"t":142,"k":59,"d":64},{"t":145,"k":65.2,"d":62},{"t":147,"k":74.5,"d":68},{"t":150,"k":85.3,"d":79},{"t":153,"k":89.9,"d":87},{"t":155,"k":83.7,"d":87},{"t":156,"k":77.5,"d":83},{"t":159,"k":62.1,"d":72},{"t":160,"k":53,"d":62},{"t":161,"k":46,"d":53},{"t":163,"k":37.5,"d":44},{"t":164,"k":34.5,"d":38},{"t":166,"k":34.5,"d":35},{"t":168,"k":23.7,"d":30},{"t":171,"k":11.4,"d":19},{"t":173,"k":16,"d":14},{"t":175,"k":25.2,"d":19},{"t":178,"k":29.9,"d":27},{"t":181,"k":42.1,"d":35},{"t":186,"k":43.7,"d":43},{"t":188,"k":57.5,"d":49},{"t":190,"k":62.1,"d":58},{"t":193,"k":57.5,"d":60},{"t":195,"k":34.5,"d":48},{"t":197,"k":20.6,"d":33},{"t":198,"k":34.5,"d":29},{"t":200,"k":56,"d":40},{"t":201,"k":80.6,"d":57},{"t":203,"k":88.3,"d":76},{"t":205,"k":91.4,"d":87},{"t":207,"k":82.2,"d":87},{"t":209,"k":65.2,"d":78},{"t":211,"k":49.8,"d":63},{"t":212,"k":65.2,"d":60},{"t":215,"k":77.5,"d":68},{"t":216,"k":86.7,"d":77},{"t":219,"k":92.9,"d":88},{"t":221,"k":94.5,"d":92},{"t":222,"k":88.3,"d":91}
],
"vma": [
{"t":-18,"m":36100},{"t":-15,"m":40900},{"t":-12,"m":44300},{"t":-8,"m":48100},{"t":-4,"m":48100},{"t":-3,"m":45600},{"t":0,"m":44300},{"t":3,"m":39600},{"t":6,"m":38000},{"t":10,"m":33000},{"t":12,"m":30800},{"t":21,"m":31400},{"t":26,"m":31400},{"t":38,"m":30800},{"t":42,"m":28300},{"t":48,"m":26700},{"t":51,"m":23600},{"t":60,"m":22000},{"t":69,"m":22000},{"t":73,"m":23600},{"t":83,"m":25200},{"t":87,"m":28300},{"t":92,"m":26700},{"t":100,"m":24500},{"t":109,"m":21400},{"t":120,"m":21400},{"t":134,"m":22600},{"t":143,"m":23600},{"t":162,"m":22600},{"t":173,"m":20400},{"t":180,"m":21400},{"t":182,"m":24200},{"t":189,"m":25200},{"t":200,"m":25800},{"t":202,"m":23600},{"t":208,"m":23600},{"t":210,"m":26700},{"t":213,"m":28300},{"t":216,"m":29900},{"t":219,"m":33000},{"t":222,"m":34600}
],
"zones": [
{"zone":"resistance","t0":-40,"t1":225.9,"p0":110.31,"p1":111.78},
{"zone":"pivot","t0":-40,"t1":228.7,"p0":107.59,"p1":108.53},
{"zone":"support","t0":-40,"t1":222.1,"p0":99.02,"p1":100.07}
],
"rsiLv": [{"lv":70},{"lv":30}],
"stoLv": [{"lv":80},{"lv":20}]
},
"vconcat": [
{
"width": 1060, "height": 104,
"layer": [
{"data": {"name": "rsiLv"}, "mark": {"type": "rule", "color": "black", "strokeDash": [5,4], "strokeWidth": 1.5},
 "encoding": {"y": {"field": "lv", "type": "quantitative", "scale": {"domain": [20,74], "nice": false, "zero": false},
  "axis": {"orient": "right", "title": null, "values": [20,30,40,50,60,70], "tickCount": 1000, "tickSize": 15, "labelPadding": 69, "labelAlign": "right", "labelBaseline": "middle", "labelFontSize": 22, "labelOverlap": false, "labelSeparation": -5000, "labelFlush": false, "labelExpr": "datum.value == 50 ? '50' : ''", "encode": {"ticks": {"update": {"x2": {"signal": "datum.value == 50 ? 15 : 6"}}}}}}}},
{"data": {"name": "rsi"}, "mark": {"type": "line", "color": "#ff0000", "strokeWidth": 3},
 "encoding": {"x": {"field": "t", "type": "quantitative", "scale": {"domain": [-18.35, 231.06], "nice": false, "zero": false},
   "axis": {"orient": "bottom", "title": null, "ticks": false, "labels": false, "domainColor": "#a8a8a8", "domainWidth": 4, "offset": 4}},
  "y": {"field": "r", "type": "quantitative"}}}
]
},
{
"width": 1060, "height": 114,
"layer": [
{"data": {"name": "stoLv"}, "mark": {"type": "rule", "color": "black", "strokeDash": [5,4], "strokeWidth": 1.5},
 "encoding": {"y": {"field": "lv", "type": "quantitative", "scale": {"domain": [-0.3,104.9], "nice": false, "zero": false},
  "axis": {"orient": "right", "title": null, "values": [0,10,20,30,40,50,60,70,80,90,100], "tickCount": 1000, "tickSize": 15, "labelPadding": 69, "labelAlign": "right", "labelBaseline": "middle", "labelFontSize": 22, "labelOverlap": false, "labelSeparation": -5000, "labelFlush": false, "labelExpr": "datum.value == 50 ? '50' : ''", "encode": {"ticks": {"update": {"x2": {"signal": "datum.value == 50 ? 15 : 6"}}}}}}}},
{"data": {"name": "sto"}, "mark": {"type": "line", "color": "black", "strokeWidth": 1.5, "strokeDash": [3,3]},
 "encoding": {"x": {"field": "t", "type": "quantitative", "scale": {"domain": [-18.35, 231.06], "nice": false, "zero": false},
   "axis": {"orient": "bottom", "title": null, "ticks": false, "labels": false, "domainColor": "#a8a8a8", "domainWidth": 4, "offset": 4}},
  "y": {"field": "d", "type": "quantitative"}}},
{"data": {"name": "sto"}, "mark": {"type": "line", "color": "#ff0000", "strokeWidth": 3},
 "encoding": {"x": {"field": "t", "type": "quantitative"}, "y": {"field": "k", "type": "quantitative"}}}
]
},
{
"width": 1060, "height": 723,
"layer": [
{"data": {"name": "zones"}, "mark": {"type": "rect", "fillOpacity": 0, "strokeWidth": 3, "clip": true},
 "encoding": {
  "x": {"field": "t0", "type": "quantitative", "scale": {"domain": [-18.35, 231.06], "nice": false, "zero": false},
   "axis": {"orient": "bottom", "title": null, "ticks": false, "labels": false, "domainColor": "#a8a8a8", "domainWidth": 4, "offset": 4}},
  "x2": {"field": "t1"},
  "y": {"field": "p0", "type": "quantitative", "scale": {"domain": [96.508, 121.912], "nice": false, "zero": false},
   "axis": {"orient": "right", "title": null, "values": [97,97.5,98,98.5,99,99.5,100,100.5,101,101.5,102,102.5,103,103.5,104,104.5,105,105.5,106,106.5,107,107.5,108,108.5,109,109.5,110,110.5,111,111.5,112,112.5,113,113.5,114,114.5,115,115.5,116,116.5,117,117.5,118,118.5,119,119.5,120,120.5,121,121.5], "tickCount": 1000, "tickSize": 15, "labelPadding": 69, "labelAlign": "right", "labelBaseline": "middle", "labelFontSize": 22, "labelOverlap": false, "labelSeparation": -5000, "labelFlush": false, "labelExpr": "(datum.value % 1 == 0 && datum.value != 108) ? format(datum.value, 'd') : ''", "encode": {"ticks": {"update": {"x2": {"signal": "datum.value % 1 == 0 ? 15 : 7"}}}}}},
  "y2": {"field": "p1"},
  "stroke": {"field": "zone", "type": "nominal", "scale": {"domain": ["resistance","pivot","support"], "range": ["#0000ff","#000000","#008c00"]}, "legend": null}
 }},
{"data": {"name": "bb"}, "transform": [{"fold": ["up","mid","lo"], "as": ["band","val"]}], "mark": {"type": "line", "color": "#ff0000", "strokeWidth": 1},
 "encoding": {"x": {"field": "t", "type": "quantitative"}, "y": {"field": "val", "type": "quantitative"}, "detail": {"field": "band", "type": "nominal"}}},
{"data": {"name": "ma"}, "mark": {"type": "line", "color": "#0000ff", "strokeWidth": 4.5},
 "encoding": {"x": {"field": "t", "type": "quantitative"}, "y": {"field": "m", "type": "quantitative"}}},
{"data": {"name": "px"}, "mark": {"type": "rule", "strokeWidth": 1.5},
 "encoding": {"x": {"field": "t", "type": "quantitative"}, "y": {"field": "l", "type": "quantitative"}, "y2": {"field": "h"},
  "color": {"condition": {"test": "datum.c >= datum.o", "value": "#0000ff"}, "value": "#ff0000"}}},
{"data": {"name": "px"}, "mark": {"type": "bar", "size": 4, "strokeWidth": 1.2},
 "encoding": {"x": {"field": "t", "type": "quantitative"}, "y": {"field": "o", "type": "quantitative"}, "y2": {"field": "c"},
  "fill": {"condition": {"test": "datum.c >= datum.o", "value": "#ffffff"}, "value": "#ff0000"},
  "stroke": {"condition": {"test": "datum.c >= datum.o", "value": "#0000ff"}, "value": "#ff0000"}}},
{"data": {"name": "px"}, "transform": [{"filter": "datum.t == 222"}], "mark": {"type": "point", "shape": "M-1,-0.3L1,-0.3L1,0.3L-1,0.3Z", "size": 7396, "filled": true, "color": "black", "opacity": 1, "xOffset": 93},
 "encoding": {"x": {"field": "t", "type": "quantitative"}, "y": {"field": "c", "type": "quantitative"}}},
{"data": {"name": "px"}, "transform": [{"filter": "datum.t == 222"}], "mark": {"type": "text", "color": "#ff0000", "font": "Liberation Sans", "fontSize": 21, "align": "center", "baseline": "middle", "xOffset": 93},
 "encoding": {"x": {"field": "t", "type": "quantitative"}, "y": {"field": "c", "type": "quantitative"}, "text": {"field": "c", "type": "quantitative", "format": ".4f"}}}
]
},
{
"width": 1060, "height": 120,
"layer": [
{"data": {"name": "px"}, "mark": {"type": "bar", "size": 3.2, "color": "#008c00"},
 "encoding": {
  "x": {"field": "t", "type": "quantitative", "scale": {"domain": [-18.35, 231.06], "nice": false, "zero": false},
   "axis": {"orient": "bottom", "title": null, "values": [-18.3,-15,-10,-5,0,5,10,14,19,21,26,31,36,41,46,51,56,61,66,71,76,81,84,86,91,96,101,106,110,115,120,125,126,130,135,140,145,149,150,155,160,165,170,175,180,185,190,192,194,199,204,209,214,219,224,229],
    "tickCount": 1000, "tickSize": 10, "labelPadding": 0, "labelOffset": 4, "labelAlign": "left", "labelBaseline": "top", "labelFontSize": 21, "labelOverlap": false, "labelSeparation": -5000, "labelFlush": false,
    "labelExpr": "['Mar','Apr','May','Jun','Jul','Aug','Sep','Oct','Nov','Dec','2020','Feb','M'][indexof([-18.3,0,19,41,61,84,106,126,149,170,192,209,229], datum.value)] || ''",
    "encode": {"ticks": {"update": {"y2": {"signal": "indexof([-18.3,0,19,41,61,84,106,126,149,170,192,209,229], datum.value) >= 0 ? 40 : 10"}}}}}},
  "y": {"field": "v", "type": "quantitative", "scale": {"domain": [0, 113208], "nice": false, "zero": true},
   "axis": {"orient": "right", "title": "x1000", "titleAngle": 0, "titleX": 27, "titleY": 108, "titleAlign": "center", "titleBaseline": "middle", "titleFontSize": 14, "titleFontWeight": "normal", "titleColor": "#222222",
    "values": [30000,40000,50000,60000,70000,80000,90000,100000,110000], "tickCount": 1000, "tickSize": 15, "labelPadding": 69, "labelAlign": "right", "labelBaseline": "middle", "labelFontSize": 22, "labelOverlap": false, "labelSeparation": -5000, "labelFlush": false, "labelExpr": "datum.value == 50000 ? '50000' : ''", "encode": {"ticks": {"update": {"x2": {"signal": "datum.value == 50000 ? 15 : 7"}}}}}}
 }},
{"data": {"name": "vma"}, "mark": {"type": "line", "color": "#ff0000", "strokeWidth": 3},
 "encoding": {"x": {"field": "t", "type": "quantitative"}, "y": {"field": "m", "type": "quantitative"}}}
]
}
]
}
